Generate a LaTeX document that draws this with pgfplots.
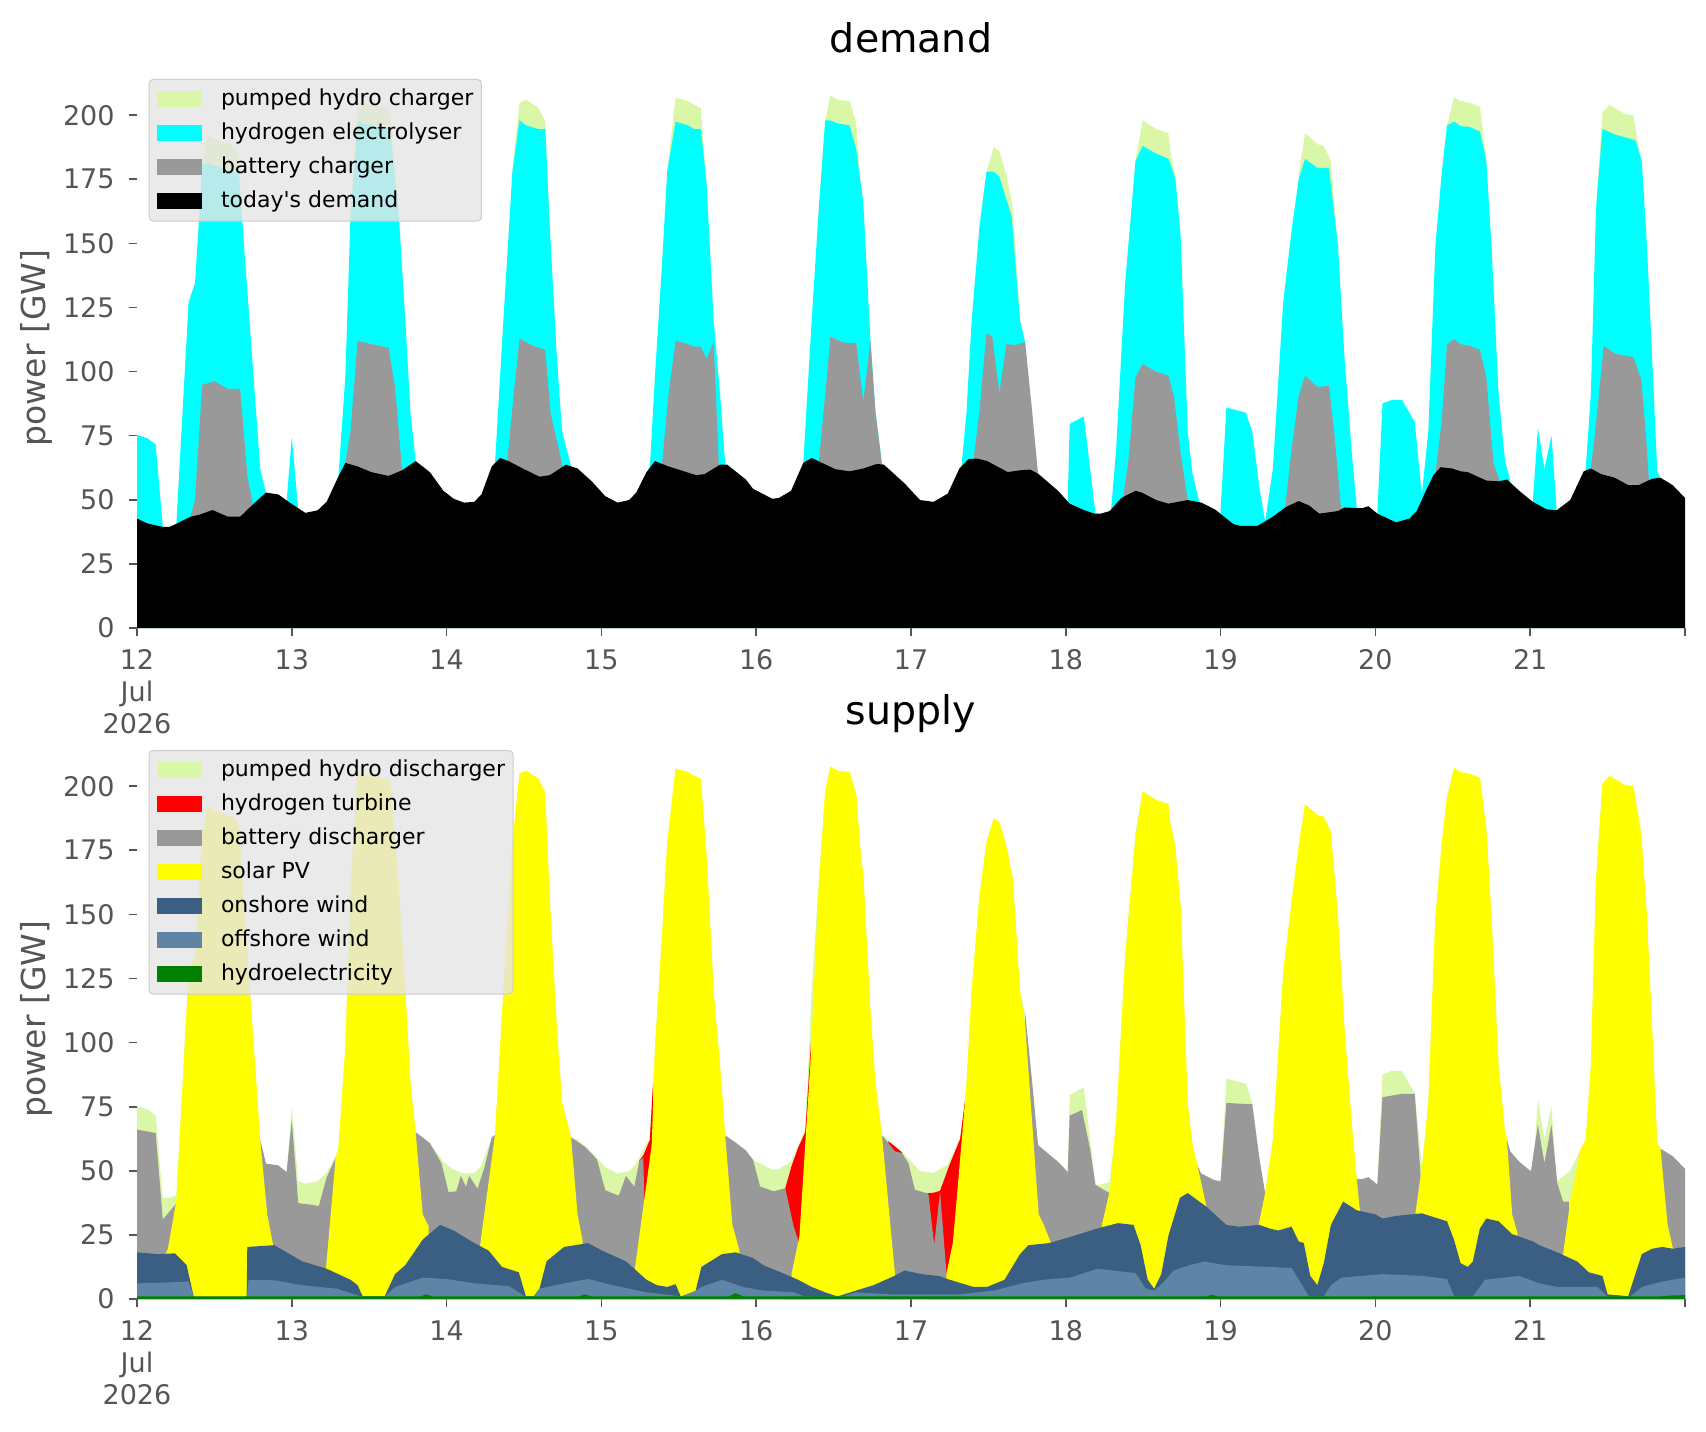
\documentclass[border=0pt]{standalone}
\usepackage{fontspec}
\setmainfont{DejaVu Sans}
\usepackage{pgfplots}
\pgfplotsset{compat=1.18}
\definecolor{phs}{HTML}{D9F7A7}
\definecolor{cyanc}{HTML}{00FFFF}
\definecolor{grayc}{HTML}{999999}
\definecolor{redc}{HTML}{FF0000}
\definecolor{yellowc}{HTML}{FFFF00}
\definecolor{onw}{HTML}{3A5F82}
\definecolor{offw}{HTML}{5E84A6}
\definecolor{hydroc}{HTML}{008000}
\definecolor{tickc}{HTML}{555555}
\definecolor{legbg}{HTML}{E5E5E5}
\definecolor{legedge}{HTML}{CCCCCC}
\pgfplotsset{
  myax/.style={
    scale only axis, width=774pt, height=280pt,
    xmin=0, xmax=240, ymin=0, ymax=218.4,
    axis line style={draw=none},
    xtick={0,24,...,240},
    xticklabels={{12\\Jul\\2026},13,14,15,16,17,18,19,20,21,{}},
    ytick={0,25,...,200},
    tick align=outside, major tick length=4pt,
    xtick pos=left, ytick pos=left,
    tick style={color=tickc, line width=0.8pt},
    xticklabel style={anchor=north, inner sep=0pt, align=center, font=\fontsize{13.5}{16}\selectfont, text=tickc, yshift=-6.65pt},
    yticklabel style={anchor=east, inner sep=0pt, font=\fontsize{13.5}{16}\selectfont, text=tickc, xshift=-7pt},
    /pgf/number format/assume math mode=true,
    ylabel={power [GW]},
    every axis y label/.style={at={(axis description cs:0,0.5)}, xshift=-50.5pt, rotate=90, anchor=center, font=\fontsize{16.5}{19}\selectfont, text=tickc},
    title style={at={(axis description cs:0.5,1)}, anchor=base, yshift=1.5pt, font=\fontsize{19.75}{23}\selectfont},
    legend cell align=left,
    legend style={at={(0,1)}, anchor=north west, xshift=5.75pt, yshift=-5.5pt,
      fill=legbg, fill opacity=0.8, text opacity=1, draw=legedge, line width=0.5pt,
      rounded corners=2pt, inner xsep=4pt, inner ysep=4.4pt, row sep=6pt,
      font=\fontsize{11}{13}\selectfont,
      nodes={inner sep=0pt, text height=8.5pt, text depth=2.5pt},
      /tikz/every odd column/.append style={column sep=9.5pt}},
    legend image code/.code={\fill[#1, fill opacity=1, sharp corners] (0pt,-3.9pt) rectangle (22.5pt,3.95pt);},
  }
}
\begin{document}
\begin{tikzpicture}
\path[use as bounding box] (0,0) rectangle (853pt,715.5pt);
% ---------------- demand ----------------
\begin{axis}[myax, at={(68.5pt,401.5pt)}, anchor=south west, title={demand}]
% pumped hydro charger: top of stack (visible at peaks)
\addplot[fill=phs, draw=none] coordinates {
(0,0) (9.9,0) (10.1,181) (10.9,192) (11.6,191) (14.9,188) (15.7,185) (16.0,176) (16.2,0)
(32.9,0) (33.1,160.6) (34.2,205) (36.3,204) (39.2,202.6) (39.8,185) (40.6,160.6) (40.8,0)
(58.0,0) (58.2,178) (59.3,204.8) (60.3,206) (62.2,203) (63.3,197.5) (64,156) (64.2,0)
(82.0,0) (82.2,178) (83.5,206.8) (85.4,205.5) (86.4,204) (87.4,202.9) (88.3,173.7) (88.5,0)
(105.5,0) (105.7,163.5) (106.7,198) (107.5,207.7) (108.6,206) (110.5,205.5) (111.5,196.8) (112.3,171) (112.5,0)
(130.4,0) (130.6,157) (131.7,178) (132.8,187.4) (133.7,186) (134.8,176.6) (135.8,163.5) (136.9,120) (137.1,0)
(154.6,0) (154.8,182) (155.9,198) (158,194.6) (159.9,193) (160.2,186) (161,176) (161.2,0)
(179.9,0) (180.1,176.6) (181.1,193) (183,188.7) (184,188) (185.1,182) (186.2,149) (186.4,0)
(202.9,0) (203.1,196) (204.2,207) (205.2,205.5) (206.6,204.8) (208.2,203.3) (209.2,183.5) (209.4,0)
(226.0,0) (226.2,163.5) (227.2,201) (228.3,204) (230.7,200.4) (232,200) (233.2,182) (233.4,0) (240,0)
} \closedcycle;
\addlegendentry{pumped hydro charger}
% hydrogen electrolyser
\addplot[fill=cyanc, draw=none] coordinates {
(0,75.2) (1.6,74) (2.9,71.6) (4,39.4) (4.2,0) (5.9,0) (6.1,40.5) (8,127) (9,134.6) (9.6,159) (10.1,181) (11.2,181) (14.9,178) (15.8,177) (19.1,62) (20,52.8) (20.2,0)
(22.9,0) (23.2,49.5) (24,74.5) (25,46) (25.2,0)
(31.0,0) (31.2,58) (32.3,98) (33.1,160.6) (34.2,197.5) (36.3,196) (39.2,194.6) (40.6,160.6) (41.6,120) (42.4,84) (43.2,65.1) (43.4,0)
(55.3,0) (55.5,64) (56.8,120) (58.2,178) (59.3,198) (60.3,196) (62.2,194.6) (63.3,194.6) (64,156) (65.1,105.6) (65.9,76.7) (67.3,63) (67.5,0)
(79.3,0) (79.5,62) (80.3,98) (81.4,142) (82.2,178) (83.5,197.5) (85.4,196) (86.4,194.6) (87.4,194.6) (88.3,173.7) (89.4,120) (90.4,91) (91.2,63.7) (91.4,0)
(103.1,0) (103.3,64.4) (104.6,120) (105.7,163.5) (106.7,198) (107.5,198) (108.6,196.8) (110.5,196) (111.5,186.7) (112.6,166) (113.7,112.9) (114.5,84) (115.5,63.8) (115.7,0)
(127.6,0) (127.8,62.5) (128.6,84) (129.4,120) (130.6,156) (131.7,178) (132.8,178) (133.7,176) (135.6,160.6) (136.9,120) (137.7,111.4) (137.9,0)
(144.1,0) (144.3,49.5) (144.6,79.6) (146.8,82.5) (148.6,44.6) (148.8,0)
(150.8,0) (151,45.6) (151.8,69.5) (153.2,134.6) (154.8,182) (155.9,188) (158,185) (159.9,183) (160.2,181) (161,175) (161.8,153) (162.9,76.7) (163.6,60.8) (164.7,49) (164.9,0)
(167.8,0) (168,46) (168.9,86) (170.8,84.7) (171.9,84) (172.9,76.7) (174,55) (174.9,41.5) (176.1,62) (177.7,127) (179,155) (180.1,175) (181.1,183) (183,179.4) (184.8,179.4) (186.2,149) (187.2,105.6) (188.3,69.5) (189.1,46.8) (189.3,0)
(192.1,0) (192.3,44.6) (193.1,87.6) (194.6,89) (196.1,89) (198.1,80.3) (199.2,52) (200.2,76.7) (201.3,149) (202.3,178) (203.1,196) (204.2,197.5) (205.2,195.7) (206.6,195.4) (208.2,193.6) (209.2,182) (210,149) (211.1,91) (212.1,65) (212.9,57.6) (213.1,0)
(216.2,0) (216.4,49.2) (217.2,78) (218.2,62) (219.3,75) (220.1,45.9) (220.3,0)
(223.6,0) (223.8,55) (224.6,62) (225.4,91) (226.2,163.5) (227.2,194.6) (229.1,192.5) (231.2,191) (232.3,190.3) (233.3,182) (234.1,149) (234.9,105.6) (235.7,60.8) (236.2,58.6) (236.4,0) (240,0)
} \closedcycle;
\addlegendentry{hydrogen electrolyser}
% battery charger
\addplot[fill=grayc, draw=none] coordinates {
(0,0) (8.1,0) (8.3,43.4) (9,50) (10.1,94.8) (12,96.2) (14.1,93.3) (16,93.3) (17.1,59.3) (17.9,49.2) (18.1,0)
(32.1,0) (32.3,64.4) (33.1,76.7) (34.2,112) (36.3,110.7) (39,109.3) (40,94) (41.1,61.5) (41.3,0)
(57.2,0) (57.4,65.1) (58.4,91) (59.3,112.9) (61.4,110) (63.3,108.5) (64.1,84) (65.9,64) (66.1,0)
(81.2,0) (81.4,64) (82.4,91) (83.5,112) (85.4,110.7) (86.4,109.7) (87.4,109.7) (88.3,105) (89.4,111.4) (90.2,63.7) (90.4,0)
(105.5,0) (105.7,64.4) (106.7,91) (107.5,113.6) (109.4,111.4) (111.5,111) (112.6,88.3) (113.7,112) (114.5,84) (115.5,63.8) (115.7,0)
(129.5,0) (129.7,65.8) (130.6,84) (131.7,115) (132.6,113.6) (133.7,91.7) (134.8,110.7) (136.1,110.3) (137.7,111.4) (138.8,84) (139.7,60) (139.9,0)
(152.7,0) (152.9,51) (153.7,65) (154.8,97.7) (155.9,103) (158,99.9) (159.9,98.4) (160.2,95.5) (160.8,89.7) (161.8,68) (162.9,49.9) (163.1,0)
(177.8,0) (178,47) (179,69.5) (180.1,90.4) (181.1,98.4) (183,94) (184.8,94.4) (185.6,76.7) (186.7,45.8) (186.9,0)
(201.1,0) (201.3,60) (202.3,81) (203.1,110.7) (204.2,112.6) (205.2,110.7) (206.6,110) (208.2,108.5) (209.2,97.7) (210.3,64.4) (211.3,57.2) (211.5,0)
(225.2,0) (225.4,62.2) (226.2,79.6) (227.4,110) (229.1,107) (232,105.6) (233.2,97) (233.9,76.7) (234.4,57.5) (234.6,0) (240,0)
} \closedcycle;
\addlegendentry{battery charger}
% today's demand
\addplot[fill=black, draw=none] coordinates {
(0,42.7) (1.6,40.8) (4,39.4) (5,39.4) (6,40.5) (8.3,43.4) (9.6,44.1) (11.7,46) (14.1,43.4) (16,43.4) (18.1,48.5) (20,52.8) (21.9,52.1) (23.5,49.2) (26.1,44.9) (28,45.9) (29.4,49.2) (31,57.9) (32.3,64.4) (34.2,63) (36.3,60.8) (39,59.3) (41.1,61.5) (43.2,65.1) (45.4,60.8) (47.5,53.5) (49.1,50.4) (50.7,48.9) (52.3,49.2) (53.4,52.1) (55,63) (56.3,66.3) (57.6,65.1) (59.8,62.2) (62.4,59) (64,59.6) (66.5,63.7) (68.3,62.2) (70.5,57.2) (72.6,51.4) (74.5,48.9) (76.3,49.9) (77.4,52.8) (79,60.8) (80.3,65.1) (82.4,63) (84.3,61.5) (86.7,59.6) (88,60) (90.4,63.7) (91.5,63.7) (94.4,57.9) (95.5,54.3) (98.5,50.4) (99.5,50.7) (101.4,53.5) (103.3,64.4) (104.6,66.3) (106.2,64.4) (108.3,61.9) (110.5,61.1) (112.6,62.2) (114.7,64) (115.8,63.7) (119,56.4) (121.4,49.9) (123.5,49.2) (125.7,52.4) (127.5,62.2) (128.9,65.8) (130.2,66.1) (131.8,65.1) (135,60.8) (136.9,61.5) (138.5,61.8) (139.8,60) (142.8,53.5) (144.6,48.5) (146.8,46) (148.4,44.6) (149.4,44.6) (150.8,45.6) (152.6,50.7) (154.8,53.5) (155.8,52.8) (158,49.9) (159.9,48.5) (162.9,49.9) (165,48.9) (167.1,46.3) (170,40.5) (171.1,39.8) (173.7,39.8) (176.1,43.4) (178,47) (180.1,49.5) (181.7,47.8) (183.3,44.6) (186.2,45.6) (187.2,47) (189.9,46.7) (190.9,47.5) (192.3,44.6) (195.2,41.2) (197.3,42.7) (198.4,45.6) (199.7,52.8) (201,59.6) (202.1,62.7) (203.9,62.2) (205.2,61.1) (206.3,60.8) (209.2,57.5) (211.1,57.2) (212.4,57.9) (214.3,53.5) (216.4,49.2) (218.5,46.3) (220.1,45.9) (222.2,49.9) (224.3,61.1) (225.4,62.2) (227,60) (229.1,58.6) (231.2,55.7) (232.8,55.7) (234.9,58.2) (236.2,58.6) (238.1,55.7) (240,50.7)
} \closedcycle;
\addlegendentry{today\textquotesingle s demand}
\end{axis}
% ---------------- supply ----------------
\begin{axis}[myax, at={(68.5pt,66pt)}, anchor=south west, title={supply}]
% pumped hydro discharger: total supply
\addplot[fill=phs, draw=none] coordinates {
(0,75.2) (1.6,74) (2.9,71.6) (4,39.4) (5,39.4) (6.1,40.5) (8,127) (9,134.6) (9.6,159) (10.1,181) (10.9,192) (11.6,191) (14.9,188) (15.7,185) (16.0,176) (19.1,62) (20,52.8) (21.9,52.1) (23.2,49.5) (24,74.5) (25,46) (26.1,44.9) (28,45.9) (29.4,49.2) (31.2,58) (32.3,98) (33.1,160.6) (34.2,205) (36.3,204) (39.2,202.6) (39.8,185) (40.6,160.6) (41.6,120) (42.4,84) (43.2,65.1) (45.4,60.8) (47.5,53.5) (49.1,50.4) (50.7,48.9) (52.3,49.2) (53.4,52.1) (55,63) (55.5,64) (56.8,120) (58.2,178) (59.3,204.8) (60.3,206) (62.2,203) (63.3,197.5) (64,156) (65.1,105.6) (65.9,76.7) (67.3,63) (68.3,62.2) (70.5,57.2) (72.6,51.4) (74.5,48.9) (76.3,49.9) (77.4,52.8) (79,60.8) (79.5,62) (80.3,98) (81.4,142) (82.2,178) (83.5,206.8) (85.4,205.5) (86.4,204) (87.4,202.9) (88.3,173.7) (89.4,120) (90.4,91) (91.2,63.7) (91.5,63.7) (94.4,57.9) (95.5,54.3) (98.5,50.4) (99.5,50.7) (101.4,53.5) (103.3,64.4) (103.6,66) (104.6,120) (105.7,163.5) (106.7,198) (107.5,207.7) (108.6,206) (110.5,205.5) (111.5,196.8) (112.3,171) (112.6,166) (113.7,112.9) (114.5,84) (115.5,63.8) (115.8,63.7) (119,56.4) (121.4,49.9) (123.5,49.2) (125.7,52.4) (127.5,62.2) (127.8,62.5) (128.6,84) (129.4,120) (130.6,157) (131.7,178) (132.8,187.4) (133.7,186) (134.8,176.6) (135.8,163.5) (136.9,120) (137.7,111.4) (138.8,84) (139.7,60) (142.8,53.5) (144.3,49.5) (144.6,79.6) (146.8,82.5) (148.6,44.6) (149.4,44.6) (150.8,45.6) (151.8,69.5) (153.2,134.6) (154.8,182) (155.9,198) (158,194.6) (159.9,193) (160.2,186) (161,176) (161.8,153) (162.9,76.7) (163.6,60.8) (164.7,49) (165,48.9) (167.1,46.3) (168,46) (168.9,86) (170.8,84.7) (171.9,84) (172.9,76.7) (174,55) (174.9,41.5) (176.1,62) (177.7,127) (179,155) (180.1,176.6) (181.1,193) (183,188.7) (184,188) (185.1,182) (186.2,149) (187.2,105.6) (188.3,69.5) (189.1,46.8) (189.9,46.7) (190.9,47.5) (192.3,44.6) (193.1,87.6) (194.6,89) (196.1,89) (198.1,80.3) (199.2,52) (200.2,76.7) (201.3,149) (202.3,178) (203.1,196) (204.2,207) (205.2,205.5) (206.6,204.8) (208.2,203.3) (209.2,183.5) (210,149) (211.1,91) (212.1,65) (212.9,57.6) (214.3,53.5) (216.4,49.2) (217.2,78) (218.2,62) (219.3,75) (220.1,45.9) (222.2,49.9) (223.8,58.4) (224.6,62) (225.4,91) (226.2,163.5) (227.2,201) (228.3,204) (230.7,200.4) (232,200) (233.2,182) (234.1,149) (234.9,105.6) (235.7,60.8) (236.2,58.6) (238.1,55.7) (240,50.7)
} \closedcycle;
\addlegendentry{pumped hydro discharger}
% hydrogen turbine
\addplot[fill=redc, draw=none] coordinates {(77.7,0) (77.9,54) (78.5,56) (79.5,62) (80,84) (80.2,0)} \closedcycle;
\addlegendentry{hydrogen turbine}
\addplot[fill=redc, draw=none, forget plot] coordinates {(100.3,0) (100.5,43.2) (101.5,52) (102.5,59) (103.6,65) (104.5,100) (104.7,0)} \closedcycle;
\addplot[fill=redc, draw=none, forget plot] coordinates {(116.3,0) (116.5,61.5) (117.5,59.5) (118.6,57.2) (118.8,0)} \closedcycle;
\addplot[fill=redc, draw=none, forget plot] coordinates {(122.3,0) (122.5,41.2) (123.6,41.5) (124.5,42.2) (126,52.5) (127.6,62.3) (128.4,78) (128.6,0)} \closedcycle;
% battery discharger
\addplot[fill=grayc, draw=none] coordinates {
(0,66.1) (2.9,64.7) (4,31) (5.9,36.7) (6.3,38) (6.5,0)
(18.9,0) (19.1,62) (20,52.8) (21.9,52.1) (23.2,49.5) (24,70) (25,37.4) (27.2,36.7) (28.2,36.3) (29.4,47.4) (30.8,55) (31,0)
(43,0) (43.2,65.1) (45.4,60.8) (47.2,53) (48.3,41.7) (49.5,42) (50.2,48) (51,43.8) (51.5,48) (52.8,43) (53.9,51.6) (55,63) (55.5,64) (55.7,0)
(67.1,0) (67.3,63) (69.4,59.5) (71.3,54.5) (72.6,42.4) (74.7,40.3) (75.8,48) (77.1,43.8) (77.9,54) (78.5,55) (79,0)
(91,0) (91.2,63.7) (92.8,61) (94.4,57.9) (95.5,54.3) (96.6,43.9) (98.7,42) (100.5,43.2) (101.8,28.3) (102.5,23) (102.7,0)
(115.3,0) (115.5,63.8) (116.5,60.8) (117.5,57.6) (118.6,56.9) (119.6,53) (120.6,42.6) (122.4,41.3) (122.7,41) (123.6,21.1) (124.5,41.9) (125.5,10) (125.7,0)
(137.5,0) (137.7,111.4) (138.8,84) (139.7,60) (141.4,56.4) (142.8,53.5) (143.6,51.4) (144.3,49.5) (144.6,71.5) (146.5,73.7) (147.8,58) (148.6,44.5) (150.5,41.7) (151,41) (151.2,0)
(164.2,0) (164.4,52.2) (165,48.9) (167.1,46.3) (168,46) (168.9,76.5) (170.8,76.2) (172.9,76) (174,55) (174.9,41.3) (175.1,0)
(188.9,0) (189.1,46.8) (189.9,46.7) (190.9,47.5) (192.3,44.6) (193.1,78.7) (196.1,80) (198.1,80) (199.1,45) (199.3,0)
(212.2,0) (212.4,62.2) (212.9,57.6) (214.3,53.5) (216.1,49.8) (217.2,68) (218.2,53) (219.3,68) (220.2,45.2) (221.1,38) (222,38) (222.2,0)
(236,0) (236.2,58.6) (238.1,55.7) (240,50.7)
} \closedcycle;
\addlegendentry{battery discharger}
% solar PV
\addplot[fill=yellowc, draw=none] coordinates {
(0,0) (3.8,0) (4.0,15) (4.8,19.6) (6.1,38.5) (8,127) (9,134.6) (9.6,159) (10.1,181) (10.9,192) (11.6,191) (14.9,188) (15.7,185) (16.0,176) (19.1,62) (20.2,33) (21.1,21) (21.3,0)
(29.1,0) (29.3,12) (30.8,55) (31.2,58) (32.3,98) (33.1,160.6) (34.2,205) (36.3,204) (39.2,202.6) (39.8,185) (40.6,160.6) (41.6,120) (42.4,84) (43.2,65.1) (44.3,33) (45.2,28.5) (45.4,0)
(53.0,0) (53.2,21) (55.5,64) (56.8,120) (58.2,178) (59.3,204.8) (60.3,206) (62.2,203) (63.3,197.5) (64,156) (65.1,105.6) (65.9,76.7) (67.3,63) (68.3,33) (69.1,22.5) (69.3,0)
(77.0,0) (77.2,12) (79.8,60) (80.3,98) (81.4,142) (82.2,178) (83.5,206.8) (85.4,205.5) (86.4,204) (87.4,202.9) (88.3,173.7) (89.4,120) (90.4,91) (91.2,63.7) (92.3,29) (93.4,19) (93.6,0)
(101.3,0) (101.5,10) (102.7,24.4) (104.4,92) (105.7,161) (106.7,198) (107.5,207.7) (108.6,206) (110.5,205.5) (111.5,196.8) (112.3,171) (112.6,166) (113.7,112.9) (114.5,84) (115.5,63.8) (117.5,10) (117.7,0)
(125.3,0) (125.5,10) (126.5,22) (127.8,60) (128.6,84) (129.4,120) (130.6,157) (131.7,178) (132.8,187.4) (133.7,186) (134.8,176.6) (135.8,163.5) (136.9,120) (137.7,107) (139.8,33) (140.6,28.9) (141.7,21.8) (141.9,0)
(149.4,0) (149.6,29) (150.8,42) (151.8,69) (153.2,133) (154.8,180) (155.9,198) (158,194.6) (159.9,193) (160.2,186) (161,176) (161.8,153) (162.9,76.7) (163.6,60.8) (164.4,52.2) (165.8,36) (166,0)
(173.7,0) (173.9,28.9) (174.9,41.3) (176.1,62) (177.7,127) (179,155) (180.1,176.6) (181.1,193) (183,188.7) (184,188) (185.1,182) (186.2,149) (187.2,105.6) (188.3,69.5) (189.1,46.8) (189.6,34.6) (189.8,0)
(198.0,0) (198.2,33.4) (199.4,55) (200.2,76.7) (201.3,149) (202.3,178) (203.1,196) (204.2,207) (205.2,205.5) (206.6,204.8) (208.2,203.3) (209.2,183.5) (210,149) (211.1,91) (212.1,65) (212.4,62.2) (213.2,33) (214,26) (214.2,0)
(220.9,0) (221.1,17.5) (222.2,38) (223.8,58.4) (224.6,62) (225.4,91) (226.2,163.5) (227.2,201) (228.3,204) (230.7,200.4) (232,200) (233.2,182) (234.1,149) (234.9,105.6) (235.7,60.8) (236.2,58.6) (237.3,29) (238.1,20) (238.3,0) (240,0)
} \closedcycle;
\addlegendentry{solar PV}
% onshore wind (top of wind stack)
\addplot[fill=onw, draw=none] coordinates {
(0,18.2) (3.2,17.5) (5.9,17.8) (7.7,13.2) (8.8,0.8) (17.0,0.8) (17.1,20.3) (21.3,21) (25.6,14.7) (29.4,11.8) (33.1,7.5) (34.2,5.4) (35,1) (38.4,1) (40,9.7) (41.6,13.2) (44.3,23.2) (47,28.9) (49.1,26.7) (52.3,21.8) (54.5,18.9) (56.6,12.5) (59.2,10.4) (60.3,1) (61.5,1) (62.4,4) (63.5,14.7) (66.2,20.3) (69.9,21.8) (72.1,18.9) (75.8,14.7) (79,7.5) (80.6,5.4) (82.2,4.7) (83.5,5.8) (84.3,1) (86.4,1) (87.5,12.5) (90.7,17.5) (92.8,18.2) (95.5,16) (97.1,13.2) (99.8,10.4) (102.5,7.5) (104.6,4.7) (106.7,2.6) (108.6,1) (111.5,3.3) (114.2,5.4) (117.4,9) (119,11.1) (121.7,9.7) (124.3,9) (126,7.5) (129.7,4.7) (131.8,4.7) (134.5,7.5) (136.9,17.5) (138.2,21) (141.4,21.8) (145.2,24.6) (148.9,27.5) (152.1,29.6) (154.5,28.9) (155.6,21) (156.7,7.5) (157.7,4) (158.8,9.7) (159.9,24.6) (161.7,39.5) (162.9,41.3) (165.8,36) (168.9,28.9) (170.8,28.2) (174,28.9) (175.6,27.5) (176.9,26.7) (179,28.2) (180.1,22.5) (180.9,21.8) (181.9,9) (183,5.4) (184,14) (185.1,28.9) (187,38) (189.1,34.6) (192,33) (193.1,31.4) (195.2,32.4) (199.2,33.4) (203.1,30.3) (204.2,23) (205.2,14) (206.3,12.5) (207.1,14.6) (208.2,27.5) (209.2,31.4) (211.1,30.3) (213.2,25.3) (216.4,22.5) (217.4,21) (220.2,18.2) (223.3,14.6) (225.1,10.4) (227.2,9) (228,1.8) (231.2,1.1) (233.3,17.5) (234.9,19.6) (236.5,20.3) (238.1,19.6) (240,20.3)
} \closedcycle;
\addlegendentry{onshore wind}
% offshore wind
\addplot[fill=offw, draw=none] coordinates {
(0,6.1) (4.3,6.4) (8,6.8) (8.8,0.8) (17.0,0.8) (17.3,7.5) (21.3,7.3) (25.6,5.4) (31,4) (35,0.8) (38.4,0.8) (40,4.7) (44.3,8.3) (48,7.8) (52.3,6.1) (57.7,5) (60.3,0.8) (61.5,0.8) (62.4,4) (66.2,6.1) (69.9,7.8) (73.7,5.4) (79,2.6) (81.9,1.8) (84.3,1) (86.7,3.3) (87.5,4.7) (90.7,7.5) (93.9,4.7) (97.1,3.3) (101.9,2.6) (103.5,1) (109.4,1) (111.5,2.6) (116.9,1.8) (127.5,1.8) (132.9,3.3) (137.2,6.1) (140.4,7.5) (144.6,8.3) (148.9,11.8) (154.8,10.1) (156.4,4) (157.7,3.3) (159,6.1) (160.7,11.1) (163.2,13.2) (165.5,14.6) (168.7,13.2) (175.6,12.5) (179,12.1) (180.3,6.8) (181.7,1) (184,1) (185.1,5.4) (186.7,8.3) (193.1,9.7) (199.4,9) (203.1,7.8) (204.2,1) (207.1,1) (209,7.5) (214.3,9) (217.4,6.1) (220.2,4.7) (226.4,4.7) (228,1) (231.5,1) (233.3,4.7) (236.5,6.8) (240,8.3)
} \closedcycle;
\addlegendentry{offshore wind}
% hydroelectricity
\addplot[fill=hydroc, draw=none] coordinates {
(0,1.0) (44,1.0) (44.8,1.8) (45.8,1.0) (68.5,1.0) (69.4,1.8) (70.5,1.0) (91.8,1.0) (92.8,2.3) (94,1.0) (165.8,1.0) (166.6,1.6) (167.5,1.0) (236,1.0) (238,1.4) (240,1.5)
} \closedcycle;
\addlegendentry{hydroelectricity}
\end{axis}
\end{tikzpicture}
\end{document}
